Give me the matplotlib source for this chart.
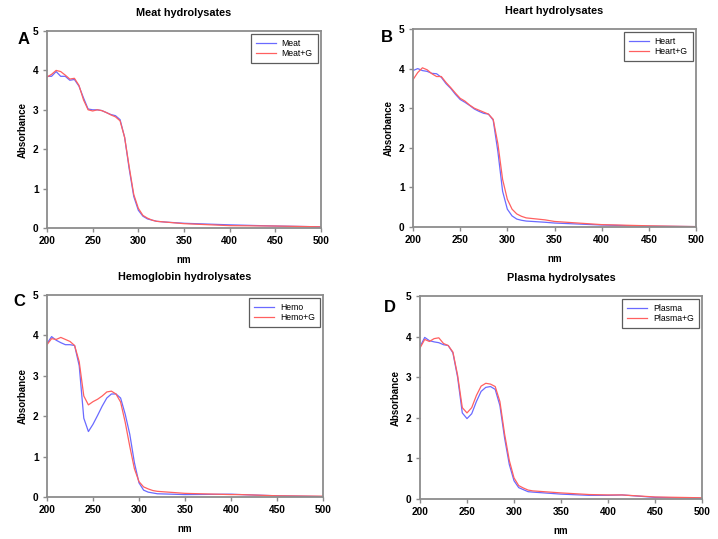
import matplotlib
matplotlib.use("Agg")
import matplotlib.pyplot as plt

plt.rcParams['font.family'] = ['Liberation Sans', 'DejaVu Sans']

wl_a = [200, 205, 210, 215, 220, 225, 230, 235, 240, 245, 250, 255, 260, 265, 270, 275, 280, 285, 290, 295, 300, 305, 310, 315, 320, 330, 350, 400, 450, 500]
meat = [3.85, 3.85, 3.97, 3.85, 3.85, 3.75, 3.77, 3.60, 3.30, 3.02, 3.00, 3.00, 2.98, 2.93, 2.88, 2.85, 2.75, 2.30, 1.50, 0.80, 0.45, 0.30, 0.23, 0.20, 0.17, 0.15, 0.12, 0.08, 0.05, 0.03]
meat_g = [3.83, 3.90, 4.00, 3.97, 3.88, 3.78, 3.80, 3.62, 3.25, 3.00, 2.97, 3.00, 2.98, 2.93, 2.87, 2.82, 2.72, 2.30, 1.55, 0.85, 0.50, 0.32, 0.25, 0.20, 0.17, 0.15, 0.11, 0.06, 0.05, 0.03]

wl_b = [200, 205, 210, 215, 220, 225, 230, 235, 240, 245, 250, 255, 260, 265, 270, 275, 280, 285, 290, 295, 300, 305, 310, 315, 320, 340, 350, 400, 450, 500]
heart = [3.95, 4.00, 3.95, 3.93, 3.88, 3.87, 3.78, 3.62, 3.50, 3.35, 3.22, 3.15, 3.07, 2.98, 2.92, 2.87, 2.85, 2.70, 1.90, 0.90, 0.45, 0.28, 0.20, 0.17, 0.15, 0.12, 0.10, 0.05, 0.02, 0.01]
heart_g = [3.72, 3.90, 4.02, 3.97, 3.87, 3.80, 3.80, 3.65, 3.52, 3.38, 3.25, 3.18, 3.08, 3.00, 2.95, 2.90, 2.85, 2.72, 2.10, 1.20, 0.70, 0.45, 0.33, 0.27, 0.23, 0.18, 0.14, 0.06, 0.03, 0.01]

wl_c = [200, 205, 210, 215, 220, 225, 230, 235, 240, 245, 250, 255, 260, 265, 270, 275, 280, 285, 290, 295, 300, 305, 310, 315, 320, 350, 400, 410, 450, 500]
hemo = [3.80, 3.97, 3.88, 3.82, 3.77, 3.77, 3.75, 3.25, 1.95, 1.62, 1.80, 2.02, 2.25, 2.45, 2.55, 2.55, 2.45, 2.05, 1.55, 0.85, 0.35, 0.17, 0.12, 0.10, 0.08, 0.06, 0.07, 0.06, 0.03, 0.01]
hemo_g = [3.77, 3.92, 3.90, 3.95, 3.90, 3.85, 3.75, 3.35, 2.50, 2.28, 2.36, 2.42, 2.50, 2.60, 2.62, 2.55, 2.35, 1.85, 1.25, 0.70, 0.38, 0.25, 0.20, 0.16, 0.14, 0.09, 0.06, 0.06, 0.03, 0.02]

wl_d = [200, 205, 210, 215, 220, 225, 230, 235, 240, 245, 250, 255, 260, 265, 270, 275, 280, 285, 290, 295, 300, 305, 310, 315, 320, 350, 380, 400, 415, 450, 500]
plasma = [3.75, 3.98, 3.90, 3.87, 3.85, 3.80, 3.78, 3.60, 3.00, 2.12, 1.98, 2.10, 2.40, 2.65, 2.75, 2.77, 2.70, 2.30, 1.50, 0.85, 0.45, 0.28, 0.23, 0.18, 0.17, 0.12, 0.09, 0.09, 0.10, 0.04, 0.02]
plasma_g = [3.72, 3.93, 3.88, 3.95, 3.97, 3.83, 3.78, 3.62, 3.05, 2.25, 2.12, 2.25, 2.55, 2.78, 2.85, 2.83, 2.77, 2.40, 1.60, 0.95, 0.52, 0.33, 0.27, 0.22, 0.20, 0.15, 0.11, 0.10, 0.10, 0.05, 0.03]

panels = [
    dict(title="Meat hydrolysates", letter="A", x=wl_a, y1=meat, y2=meat_g, l1="Meat", l2="Meat+G",
         rect=[47/718, 1-228/539, 274/718, 197/539], letter_pos=(18, 40)),
    dict(title="Heart hydrolysates", letter="B", x=wl_b, y1=heart, y2=heart_g, l1="Heart", l2="Heart+G",
         rect=[413/718, 1-227/539, 283/718, 198/539], letter_pos=(381, 38)),
    dict(title="Hemoglobin hydrolysates", letter="C", x=wl_c, y1=hemo, y2=hemo_g, l1="Hemo", l2="Hemo+G",
         rect=[47/718, 1-497/539, 276/718, 202/539], letter_pos=(13, 301)),
    dict(title="Plasma hydrolysates", letter="D", x=wl_d, y1=plasma, y2=plasma_g, l1="Plasma", l2="Plasma+G",
         rect=[420/718, 1-499/539, 282/718, 203/539], letter_pos=(384, 307)),
]

W, H = 718, 539
fig = plt.figure(figsize=(W/100, H/100), dpi=100)

for p in panels:
    ax = fig.add_axes(p["rect"])
    ax.plot(p["x"], p["y1"], color="#6a6aff", lw=0.9, label=p["l1"])
    ax.plot(p["x"], p["y2"], color="#ff6060", lw=0.9, label=p["l2"])
    ax.set_xlim(200, 500)
    ax.set_ylim(0, 5)
    ax.set_xticks([200, 250, 300, 350, 400, 450, 500])
    ax.set_yticks([0, 1, 2, 3, 4, 5])
    for s in ax.spines.values():
        s.set_color("#8c8c8c")
        s.set_linewidth(1.3)
    ax.tick_params(direction="out", length=3, width=1, color="#8c8c8c",
                   labelsize=7.3, pad=3)
    for lab in ax.get_xticklabels() + ax.get_yticklabels():
        lab.set_fontweight("bold")
    ax.set_xlabel("nm", fontsize=7, fontweight="bold", labelpad=6)
    ax.set_ylabel("Absorbance", fontsize=7, fontweight="bold", labelpad=4)
    ax.set_title(p["title"], fontsize=7.8, fontweight="bold", pad=11)
    leg = ax.legend(loc="upper right", fontsize=6.2, frameon=True, fancybox=False,
                    handlelength=2.3, borderaxespad=0.35, borderpad=0.6,
                    labelspacing=0.05, handletextpad=0.7)
    leg.get_frame().set_edgecolor("#333333")
    leg.get_frame().set_linewidth(0.9)
    lx, ly = p["letter_pos"]
    fig.text(lx/W, 1-ly/H, p["letter"], fontsize=12, fontweight="bold", ha="left", va="center")

fig.savefig("out.png", dpi=100)
